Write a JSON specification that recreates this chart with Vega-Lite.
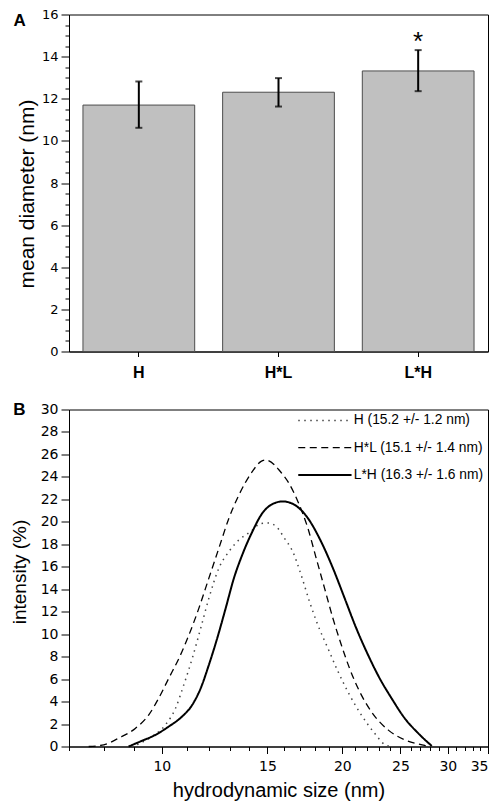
{
  "$schema": "https://vega.github.io/schema/vega-lite/v6.json",
  "padding": {"left": 9, "top": 7.5, "right": 0, "bottom": 0},
  "background": "white",
  "spacing": 18,
  "resolve": {"legend": {"color": "independent", "strokeDash": "independent", "strokeWidth": "independent"}},
  "config": {
    "font": "Liberation Sans",
    "view": {"stroke": "black", "strokeWidth": 1},
    "axis": {"labelFont": "DejaVu Sans", "titleFont": "Liberation Sans", "labelColor": "black", "titleColor": "black", "tickColor": "black", "domainColor": "black", "grid": false, "titleFontWeight": "normal"},
    "legend": {"labelFont": "Liberation Sans", "labelColor": "black", "labelFontSize": 13.8, "padding": 0, "symbolType": "M-5,0H5", "symbolSize": 113.6, "labelOffset": 22, "rowPadding": 12.3, "title": null},
    "title": {"font": "Liberation Sans", "color": "black"}
  },
  "datasets": {
    "bars": [
      {"group": "H", "mean": 11.7, "lower": 10.62, "upper": 12.82, "sig": ""},
      {"group": "H*L", "mean": 12.31, "lower": 11.63, "upper": 12.98, "sig": ""},
      {"group": "L*H", "mean": 13.32, "lower": 12.36, "upper": 14.31, "sig": "*"}
    ],
    "dls": [
      {"series": "H*L", "size": 7.55, "intensity": 0},
      {"series": "H*L", "size": 8.0, "intensity": 0.15},
      {"series": "H*L", "size": 8.47, "intensity": 0.74},
      {"series": "H*L", "size": 9.04, "intensity": 1.63},
      {"series": "H*L", "size": 9.51, "intensity": 2.82},
      {"series": "H*L", "size": 9.88, "intensity": 4.3},
      {"series": "H*L", "size": 10.27, "intensity": 6.08},
      {"series": "H*L", "size": 10.68, "intensity": 7.86},
      {"series": "H*L", "size": 11.1, "intensity": 9.95},
      {"series": "H*L", "size": 11.53, "intensity": 12.32},
      {"series": "H*L", "size": 11.98, "intensity": 14.99},
      {"series": "H*L", "size": 12.45, "intensity": 17.66},
      {"series": "H*L", "size": 12.94, "intensity": 20.33},
      {"series": "H*L", "size": 13.45, "intensity": 22.41},
      {"series": "H*L", "size": 14.16, "intensity": 24.49},
      {"series": "H*L", "size": 14.64, "intensity": 25.38},
      {"series": "H*L", "size": 14.9, "intensity": 25.5},
      {"series": "H*L", "size": 15.41, "intensity": 25.08},
      {"series": "H*L", "size": 15.75, "intensity": 24.5},
      {"series": "H*L", "size": 16.22, "intensity": 23.6},
      {"series": "H*L", "size": 16.86, "intensity": 21.82},
      {"series": "H*L", "size": 17.52, "intensity": 19.44},
      {"series": "H*L", "size": 18.09, "intensity": 16.77},
      {"series": "H*L", "size": 18.68, "intensity": 14.1},
      {"series": "H*L", "size": 19.29, "intensity": 11.42},
      {"series": "H*L", "size": 19.92, "intensity": 9.06},
      {"series": "H*L", "size": 20.56, "intensity": 6.97},
      {"series": "H*L", "size": 21.37, "intensity": 4.9},
      {"series": "H*L", "size": 22.35, "intensity": 3.12},
      {"series": "H*L", "size": 23.84, "intensity": 1.48},
      {"series": "H*L", "size": 25.41, "intensity": 0.59},
      {"series": "H*L", "size": 27.44, "intensity": 0.09},
      {"series": "H*L", "size": 27.8, "intensity": 0},
      {"series": "H", "size": 8.9, "intensity": 0},
      {"series": "H", "size": 9.21, "intensity": 0.3},
      {"series": "H", "size": 9.63, "intensity": 0.89},
      {"series": "H", "size": 10.14, "intensity": 1.93},
      {"series": "H", "size": 10.54, "intensity": 3.41},
      {"series": "H", "size": 10.88, "intensity": 5.49},
      {"series": "H", "size": 11.24, "intensity": 7.86},
      {"series": "H", "size": 11.61, "intensity": 10.53},
      {"series": "H", "size": 11.98, "intensity": 13.2},
      {"series": "H", "size": 12.45, "intensity": 15.88},
      {"series": "H", "size": 12.94, "intensity": 17.36},
      {"series": "H", "size": 13.45, "intensity": 18.4},
      {"series": "H", "size": 14.07, "intensity": 19.14},
      {"series": "H", "size": 14.62, "intensity": 19.85},
      {"series": "H", "size": 15.02, "intensity": 19.9},
      {"series": "H", "size": 15.51, "intensity": 19.59},
      {"series": "H", "size": 16.01, "intensity": 18.55},
      {"series": "H", "size": 16.53, "intensity": 17.36},
      {"series": "H", "size": 17.07, "intensity": 15.29},
      {"series": "H", "size": 17.63, "intensity": 12.91},
      {"series": "H", "size": 18.2, "intensity": 10.84},
      {"series": "H", "size": 18.92, "intensity": 8.75},
      {"series": "H", "size": 19.67, "intensity": 6.68},
      {"series": "H", "size": 20.56, "intensity": 4.6},
      {"series": "H", "size": 21.51, "intensity": 2.82},
      {"series": "H", "size": 22.63, "intensity": 1.19},
      {"series": "H", "size": 23.5, "intensity": 0.2},
      {"series": "H", "size": 24.1, "intensity": 0},
      {"series": "L*H", "size": 8.8, "intensity": 0},
      {"series": "L*H", "size": 9.21, "intensity": 0.45},
      {"series": "L*H", "size": 9.76, "intensity": 1.04},
      {"series": "L*H", "size": 10.27, "intensity": 1.78},
      {"series": "L*H", "size": 10.81, "intensity": 2.67},
      {"series": "L*H", "size": 11.24, "intensity": 3.71},
      {"series": "L*H", "size": 11.61, "intensity": 5.19},
      {"series": "L*H", "size": 11.98, "intensity": 7.27},
      {"series": "L*H", "size": 12.37, "intensity": 9.64},
      {"series": "L*H", "size": 12.78, "intensity": 12.32},
      {"series": "L*H", "size": 13.19, "intensity": 14.99},
      {"series": "L*H", "size": 13.62, "intensity": 17.07},
      {"series": "L*H", "size": 14.16, "intensity": 19.14},
      {"series": "L*H", "size": 14.71, "intensity": 20.77},
      {"series": "L*H", "size": 15.22, "intensity": 21.52},
      {"series": "L*H", "size": 15.91, "intensity": 21.82},
      {"series": "L*H", "size": 16.64, "intensity": 21.52},
      {"series": "L*H", "size": 17.52, "intensity": 20.33},
      {"series": "L*H", "size": 18.43, "intensity": 18.25},
      {"series": "L*H", "size": 19.29, "intensity": 15.88},
      {"series": "L*H", "size": 20.18, "intensity": 13.2},
      {"series": "L*H", "size": 21.1, "intensity": 10.53},
      {"series": "L*H", "size": 22.07, "intensity": 8.17},
      {"series": "L*H", "size": 23.08, "intensity": 6.08},
      {"series": "L*H", "size": 24.16, "intensity": 4.3},
      {"series": "L*H", "size": 25.41, "intensity": 2.52},
      {"series": "L*H", "size": 26.76, "intensity": 1.19},
      {"series": "L*H", "size": 28.2, "intensity": 0.05}
    ]
  },
  "vconcat": [
    {
      "width": 419,
      "height": 337,
      "title": {"text": "A", "anchor": "start", "frame": "bounds", "baseline": "top", "offset": -16, "dy": 5, "dx": -3, "fontSize": 17, "fontWeight": "bold"},
      "data": {"name": "bars"},
      "resolve": {"axis": {"y": "independent"}},
      "layer": [
        {
          "mark": {"type": "bar", "fill": "#c0c0c0", "stroke": "#4d4d4d", "strokeWidth": 1},
          "encoding": {
            "x": {"field": "group", "type": "nominal", "sort": null, "scale": {"paddingInner": 0.2, "paddingOuter": 0.1},
                  "axis": {"title": null, "labelAngle": 0, "labelFont": "Liberation Sans", "labelFontSize": 16, "labelFontWeight": "bold", "tickSize": 5, "labelPadding": 8}},
            "y": {"field": "mean", "type": "quantitative", "scale": {"domain": [0, 16], "nice": false},
                  "axis": {"title": "mean diameter (nm)", "titleFontSize": 21, "titleY": 179, "values": [0, 2, 4, 6, 8, 10, 12, 14, 16], "labelFontSize": 13, "tickSize": 8, "labelPadding": 3, "titlePadding": 4}}
          }
        },
        {
          "mark": {"type": "errorbar", "ticks": {"size": 7, "thickness": 2, "color": "black"}, "rule": {"strokeWidth": 2, "color": "black"}},
          "encoding": {
            "x": {"field": "group", "type": "nominal", "sort": null},
            "y": {"field": "lower", "type": "quantitative", "axis": null},
            "y2": {"field": "upper"}
          }
        },
        {
          "mark": {"type": "text", "fontSize": 26, "baseline": "alphabetic", "color": "black"},
          "encoding": {
            "x": {"field": "group", "type": "nominal", "sort": null},
            "y": {"field": "upper", "type": "quantitative",
                  "axis": {"orient": "left", "title": null, "labels": false, "domain": false, "tickSize": 4, "values": [0.5, 1, 1.5, 2.5, 3, 3.5, 4.5, 5, 5.5, 6.5, 7, 7.5, 8.5, 9, 9.5, 10.5, 11, 11.5, 12.5, 13, 13.5, 14.5, 15, 15.5]}},
            "text": {"field": "sig"}
          }
        }
      ]
    },
    {
      "width": 419,
      "height": 337,
      "title": {"text": "B", "anchor": "start", "frame": "bounds", "baseline": "top", "offset": -15, "dy": 1, "dx": 3, "fontSize": 17, "fontWeight": "bold"},
      "data": {"name": "dls"},
      "resolve": {"axis": {"x": "independent"}},
      "layer": [
        {
          "mark": {"type": "line", "interpolate": "monotone"},
          "encoding": {
            "x": {"field": "size", "type": "quantitative", "scale": {"type": "log", "domain": [7, 35], "nice": false},
                  "axis": {"title": "hydrodynamic size (nm)", "values": [10, 15, 20, 25, 30, 35], "format": "d", "labelFontSize": 14, "titleFontSize": 20, "tickSize": 7, "labelPadding": 6, "titlePadding": 7}},
            "y": {"field": "intensity", "type": "quantitative", "scale": {"domain": [0, 30], "nice": false},
                  "axis": {"title": "intensity (%)", "values": [0, 2, 4, 6, 8, 10, 12, 14, 16, 18, 20, 22, 24, 26, 28, 30], "labelFontSize": 14, "titleFontSize": 19, "titleY": 162, "tickSize": 8, "labelPadding": 3, "titlePadding": 11}},
            "color": {"field": "series", "type": "nominal", "scale": {"domain": ["H", "H*L", "L*H"], "range": ["#444444", "#000000", "#000000"]},
                      "legend": {"title": null, "orient": "top-right", "offset": 4, "labelFontSize": 13.8,
                                 "encode": {"labels": {"update": {"fontSize": {"value": 13.8}}}},
                                 "labelExpr": "datum.label == 'H' ? 'H (15.2 +/- 1.2 nm)' : datum.label == 'H*L' ? 'H*L (15.1 +/- 1.4 nm)' : 'L*H (16.3 +/- 1.6 nm)'"}},
            "strokeDash": {"field": "series", "type": "nominal", "scale": {"domain": ["H", "H*L", "L*H"], "range": [[1.5, 4.5], [7, 4.5], [1, 0]]}},
            "strokeWidth": {"field": "series", "type": "nominal", "scale": {"type": "ordinal", "domain": ["H", "H*L", "L*H"], "range": [1.5, 1.3, 2]}}
          }
        },
        {
          "mark": {"type": "point", "opacity": 0},
          "encoding": {
            "x": {"field": "size", "type": "quantitative",
                  "axis": {"orient": "bottom", "title": null, "labels": false, "domain": false, "tickSize": 4, "values": [7, 8, 9, 11, 12, 13, 14, 16, 17, 18, 19, 21, 22, 23, 24, 26, 27, 28, 29, 31, 32, 33, 34]}}
          }
        }
      ]
    }
  ]
}
